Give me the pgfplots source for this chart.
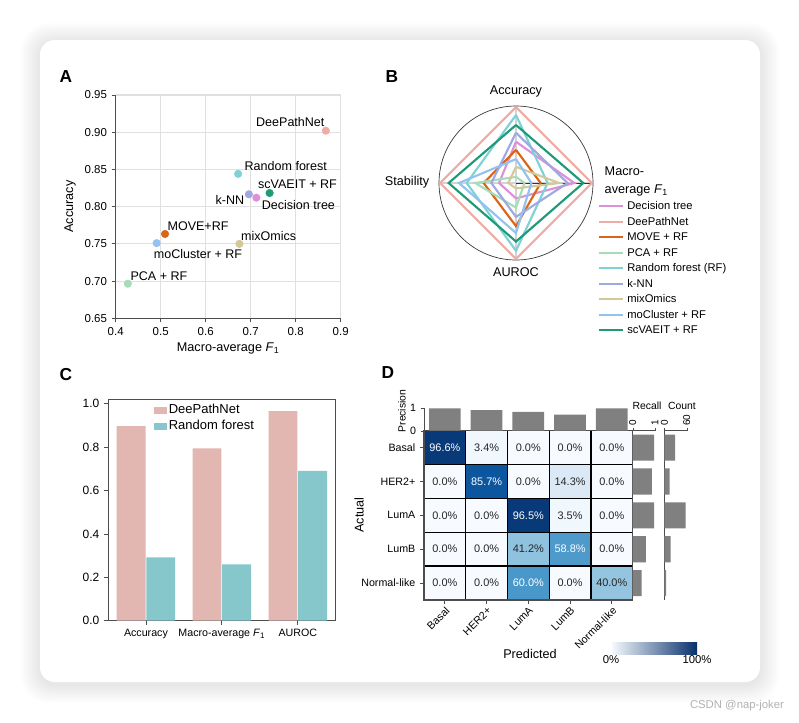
\documentclass[border=0pt]{standalone}
\usepackage{fontspec}
\setmainfont{Liberation Sans}
\usepackage{pgfplots}
\pgfplotsset{compat=1.18}
\usepgfplotslibrary{polar}

\definecolor{cDT}{HTML}{DE8FD9}
\definecolor{cDPN}{HTML}{EEACA5}
\definecolor{cMOVE}{HTML}{DB6516}
\definecolor{cPCA}{HTML}{A6DCB7}
\definecolor{cRF}{HTML}{7ED2D6}
\definecolor{cKNN}{HTML}{9EA9E2}
\definecolor{cMIX}{HTML}{D2C99A}
\definecolor{cMOC}{HTML}{92C3F0}
\definecolor{cSCV}{HTML}{1F9A76}
\definecolor{barDPN}{HTML}{E2B6B1}
\definecolor{barRF}{HTML}{86C7CC}
\definecolor{axisgray}{HTML}{4D4D4D}
\definecolor{bargray}{HTML}{808080}

\newcommand{\fs}[1]{\fontsize{#1}{#1}\selectfont}
\newcommand{\Fone}{\textit{F}\textsubscript{1}}

\pgfplotsset{
  /pgf/number format/assume math mode=true,
  every axis/.append style={font=\fs{8.6}},
}

\begin{document}
\begin{tikzpicture}
% background and card, in pixel units (y downwards)
\begin{scope}[x=0.75pt, y=-0.75pt]
\useasboundingbox (0,0) rectangle (799,722);
\fill[white] (0,0) rectangle (799,722);
\foreach \i in {1,...,12}{
  \pgfmathsetmacro\rc{12+0.8*\i}
  \fill[black, opacity=0.009, rounded corners=\rc pt] ({40-1.6*\i},{40-1.6*\i+2}) rectangle ({760+1.6*\i},{682+1.6*\i+2});
}
\fill[white, rounded corners=11pt] (40,40) rectangle (760,682);
\node[font=\bfseries\fs{13}] at (66,77) {A};
\node[font=\bfseries\fs{13}] at (392,77) {B};
\node[font=\bfseries\fs{13}] at (66,375) {C};
\node[font=\bfseries\fs{13}] at (388,373) {D};
\end{scope}

% ---------------- A: scatter
\begin{axis}[
  at={(86.775pt,-238.725pt)}, anchor=south west, scale only axis,
  width=168.75pt, height=167.5pt,
  xmin=0.4, xmax=0.9, ymin=0.65, ymax=0.95,
  xtick={0.4,0.5,0.6,0.7,0.8,0.9},
  ytick={0.65,0.70,0.75,0.80,0.85,0.90,0.95},
  yticklabel style={/pgf/number format/fixed, /pgf/number format/fixed zerofill, /pgf/number format/precision=2},
  xmajorgrids, ymajorgrids, grid style={black!12, line width=0.8pt},
  axis x line*=bottom, axis y line*=left,
  axis line style={axisgray, line width=0.6pt},
  tick style={axisgray, line width=0.6pt}, tick align=outside, major tick length=3pt,
  xlabel={Macro-average \Fone}, ylabel={Accuracy},
  xlabel style={at={(axis description cs:0.5,-0.133)}, anchor=center, font=\fs{9.5}},
  ylabel style={at={(axis description cs:-0.203,0.5)}, anchor=center, font=\fs{9.5}},
  clip=false,
  every axis plot/.append style={only marks, mark=*, mark size=2.8pt},
]
\addplot[color=cDPN] coordinates {(0.867,0.902)};
\addplot[color=cRF] coordinates {(0.672,0.844)};
\addplot[color=cKNN] coordinates {(0.696,0.8166)};
\addplot[color=cDT] coordinates {(0.7126,0.812)};
\addplot[color=cSCV] coordinates {(0.742,0.8183)};
\addplot[color=cMOVE] coordinates {(0.5096,0.7633)};
\addplot[color=cMOC] coordinates {(0.491,0.751)};
\addplot[color=cMIX] coordinates {(0.675,0.750)};
\addplot[color=cPCA] coordinates {(0.427,0.6965)};
\begin{scope}[every node/.style={font=\fs{9.4}}]
\node at (axis cs:0.788,0.914) {DeePathNet};
\node at (axis cs:0.778,0.855) {Random forest};
\node at (axis cs:0.804,0.8295) {scVAEIT + RF};
\node at (axis cs:0.654,0.809) {k-NN};
\node at (axis cs:0.806,0.802) {Decision tree};
\node at (axis cs:0.583,0.774) {MOVE+RF};
\node at (axis cs:0.740,0.7606) {mixOmics};
\node at (axis cs:0.583,0.736) {moCluster + RF};
\node at (axis cs:0.496,0.707) {PCA + RF};
\end{scope}
\end{axis}

% ---------------- B: radar
\begin{polaraxis}[
  at={(387pt,-137.25pt)}, anchor=center, scale only axis,
  width=115.5pt, height=115.5pt,
  ymin=0, ymax=1,
  xtick={0,90,180,270}, xticklabels={}, ytick=\empty,
  xmajorgrids, major grid style={black!17, line width=1.4pt},
  major tick length=0pt,
  axis line style={black!80, line width=0.5pt},
  clip=false,
  legend cell align=left,
  legend style={at={(1.03,0.40)}, anchor=north west, draw=none, fill=none,
    font=\fs{8.4}, inner sep=0pt, row sep=0pt,
    nodes={inner ysep=1.3pt, inner xsep=2.5pt, text height=7pt, text depth=2pt}},
  legend image code/.code={\draw[#1] (0pt,0pt) -- (18pt,0pt);},
  every axis plot/.append style={line width=1.6pt, mark=none},
]
\addplot[cDT] coordinates {(90,0.536) (0,0.757) (270,0.20) (180,0.22) (90,0.536)};
\addlegendentry{Decision tree}
\addplot[cDPN] coordinates {(90,0.985) (0,0.985) (270,0.985) (180,0.985) (90,0.985)};
\addlegendentry{DeePathNet}
\addplot[cMOVE] coordinates {(90,0.43) (0,0.32) (270,0.56) (180,0.42) (90,0.43)};
\addlegendentry{MOVE + RF}
\addplot[cPCA] coordinates {(90,0.08) (0,0.11) (270,0.32) (180,0.53) (90,0.08)};
\addlegendentry{PCA + RF}
\addplot[cRF] coordinates {(90,0.883) (0,0.41) (270,0.88) (180,0.64) (90,0.883)};
\addlegendentry{Random forest (RF)}
\addplot[cKNN] coordinates {(90,0.653) (0,0.67) (270,0.44) (180,0.32) (90,0.653)};
\addlegendentry{k-NN}
\addplot[cMIX] coordinates {(90,0.21) (0,0.56) (270,0.07) (180,0.10) (90,0.21)};
\addlegendentry{mixOmics}
\addplot[cMOC] coordinates {(90,0.31) (0,0.20) (270,0.65) (180,0.74) (90,0.31)};
\addlegendentry{moCluster + RF}
\addplot[cSCV] coordinates {(90,0.753) (0,0.874) (270,0.76) (180,0.875) (90,0.753)};
\addlegendentry{scVAEIT + RF}
\end{polaraxis}

% ---------------- C: bars
\begin{axis}[
  at={(81pt,-465.525pt)}, anchor=south west, scale only axis,
  width=170.8pt, height=166.3pt,
  xmin=-0.5, xmax=2.5, ymin=0, ymax=1.0217,
  ybar, bar width=0.38,
  xtick={0,1,2}, xticklabels={Accuracy, {Macro-average \Fone}, AUROC},
  ytick={0,0.2,0.4,0.6,0.8,1.0},
  yticklabel style={/pgf/number format/fixed, /pgf/number format/fixed zerofill, /pgf/number format/precision=1, font=\fs{9}},
  xticklabel style={font=\fs{8}},
  xtick pos=bottom, ytick pos=left, tick align=outside, major tick length=3pt,
  axis line style={axisgray, line width=0.6pt}, tick style={axisgray, line width=0.6pt},
  legend cell align=left,
  legend style={at={(0.2,0.985)}, anchor=north west, draw=none, fill=none,
    font=\fs{9.75}, inner sep=0pt, row sep=0pt,
    nodes={inner ysep=1pt, inner xsep=1.5pt, text height=7.5pt, text depth=2.5pt}},
  legend image code/.code={\fill[#1] (0pt,-2.8pt) rectangle (9.75pt,2.8pt);},
]
\addplot[fill=barDPN, draw=none, bar shift=-0.195] coordinates {(0,0.897) (1,0.794) (2,0.966)};
\addplot[fill=barRF, draw=none, bar shift=0.195] coordinates {(0,0.292) (1,0.260) (2,0.690)};
\legend{DeePathNet, Random forest}
\end{axis}

% ---------------- D: confusion matrix
\begin{axis}[
  at={(318pt,-450pt)}, anchor=south west, scale only axis,
  width=156.5pt, height=127pt,
  xmin=-0.5, xmax=4.5, ymin=-0.5, ymax=4.5, y dir=reverse,
  xtick={0,...,4}, ytick={0,...,4},
  xticklabels={Basal, HER2+, LumA, LumB, Normal-like},
  yticklabels={Basal, HER2+, LumA, LumB, Normal-like},
  xticklabel style={rotate=45, anchor=north east, inner sep=1pt, font=\fs{8}},
  yticklabel style={font=\fs{8}},
  xtick pos=bottom, ytick pos=left, tick align=outside, major tick length=3pt,
  minor xtick={0.5,1.5,2.5,3.5}, minor ytick={0.5,1.5,2.5,3.5}, minor tick length=0pt,
  xminorgrids, yminorgrids, minor grid style={black, line width=1pt},
  axis on top, axis line style={axisgray, line width=0.8pt}, tick style={axisgray, line width=0.6pt},
  colormap={blues}{rgb255=(247,251,255) rgb255=(222,235,247) rgb255=(198,219,239) rgb255=(158,202,225) rgb255=(107,174,214) rgb255=(66,146,198) rgb255=(33,113,181) rgb255=(8,81,156) rgb255=(8,48,107)},
  point meta min=0, point meta max=100,
  colorbar horizontal,
  colorbar style={at={(parent axis.south west)}, anchor=north west,
    xshift=140.25pt, yshift=-23.25pt, scale only axis, width=64.5pt, height=9pt,
    xtick={0,100}, xticklabels={0\%,100\%}, axis line style={draw=none},
    major tick length=0pt, xticklabel style={font=\fs{8.5}, inner sep=1pt},
    colormap={cbar}{rgb255=(247,251,255) rgb255=(8,48,107)}},
]
\addplot[matrix plot*, mesh/cols=5, point meta=explicit] table[meta=v] {
x y v
0 0 96.6
1 0 3.4
2 0 0
3 0 0
4 0 0
0 1 0
1 1 85.7
2 1 0
3 1 14.3
4 1 0
0 2 0
1 2 0
2 2 96.5
3 2 3.5
4 2 0
0 3 0
1 3 0
2 3 41.2
3 3 58.8
4 3 0
0 4 0
1 4 0
2 4 60.0
3 4 0
4 4 40.0
};
\addplot[only marks, mark=none, point meta=explicit symbolic, nodes near coords,
  every node near coord/.append style={anchor=center, text=white, font=\fs{8.2}}]
  coordinates {(0,0)[96.6\%] (1,1)[85.7\%] (2,2)[96.5\%] (3,3)[58.8\%] (2,4)[60.0\%]};
\addplot[only marks, mark=none, point meta=explicit symbolic, nodes near coords,
  every node near coord/.append style={anchor=center, text=black!85, font=\fs{8.2}}]
  coordinates {(1,0)[3.4\%] (2,0)[0.0\%] (3,0)[0.0\%] (4,0)[0.0\%]
    (0,1)[0.0\%] (2,1)[0.0\%] (3,1)[14.3\%] (4,1)[0.0\%]
    (0,2)[0.0\%] (1,2)[0.0\%] (3,2)[3.5\%] (4,2)[0.0\%]
    (0,3)[0.0\%] (1,3)[0.0\%] (2,3)[41.2\%] (4,3)[0.0\%]
    (0,4)[0.0\%] (1,4)[0.0\%] (3,4)[0.0\%] (4,4)[40.0\%]};
\end{axis}

% precision bars
\begin{axis}[
  at={(318pt,-323.025pt)}, anchor=south west, scale only axis,
  width=156.5pt, height=16.8pt,
  xmin=-0.5, xmax=4.5, ymin=0, ymax=1,
  ybar, bar width=0.76,
  axis x line=none, axis y line*=left,
  ytick={0,1}, yticklabel style={font=\fs{8}},
  tick align=outside, major tick length=2.5pt,
  axis line style={axisgray, line width=0.6pt}, tick style={axisgray},
]
\addplot[fill=bargray, draw=none] coordinates {(0,1.0) (1,0.923) (2,0.846) (3,0.714) (4,1.0)};
\end{axis}

% recall bars
\begin{axis}[
  at={(474.525pt,-450pt)}, anchor=south west, scale only axis,
  width=16.7pt, height=127pt,
  xmin=0, xmax=1, ymin=-0.5, ymax=4.5, y dir=reverse,
  xbar, bar width=0.77,
  axis x line*=top, axis y line=none,
  xtick={0,1}, xticklabel style={rotate=90, anchor=west, font=\fs{7.5}, inner sep=1.5pt},
  tick align=outside, major tick length=2pt,
  axis line style={axisgray, line width=0.6pt}, tick style={axisgray},
]
\addplot[fill=bargray, draw=none] coordinates {(0.966,0) (0.857,1) (0.965,2) (0.588,3) (0.4,4)};
\end{axis}

% count bars
\begin{axis}[
  at={(498.225pt,-450pt)}, anchor=south west, scale only axis,
  width=16.8pt, height=127pt,
  xmin=0, xmax=60, ymin=-0.5, ymax=4.5, y dir=reverse,
  xbar, bar width=0.77,
  axis x line*=top, axis y line*=left, ytick=\empty,
  xtick={0,60}, xticklabel style={rotate=90, anchor=west, font=\fs{7.5}, inner sep=1.5pt},
  tick align=outside, major tick length=2pt,
  axis line style={axisgray, line width=0.6pt}, tick style={axisgray},
]
\addplot[fill=bargray, draw=none] coordinates {(29,0) (14,1) (57,2) (17,3) (5,4)};
\end{axis}

% texts placed in pixel units
\begin{scope}[x=0.75pt, y=-0.75pt]
\node[font=\fs{9.5}] at (516,91) {Accuracy};
\node[font=\fs{9.5}, anchor=east] at (434,182) {Stability};
\node[anchor=west, align=left, font=\fontsize{9.5}{13.5}\selectfont] at (600,181) {Macro-\\average \Fone};
\node[font=\fs{9.5}] at (516,272) {AUROC};
\node[font=\fs{9.5}] at (530,654) {Predicted};
\node[font=\fs{9.5}, rotate=90] at (359,515) {Actual};
\node[font=\fs{7.8}, rotate=90] at (402,411) {Precision};
\node[font=\fs{7.8}] at (647,406) {Recall};
\node[font=\fs{7.8}] at (682,406) {Count};
\node[text=black!30, font=\fs{8.5}] at (737,706) {CSDN @nap-joker};
\end{scope}
\end{tikzpicture}
\end{document}
